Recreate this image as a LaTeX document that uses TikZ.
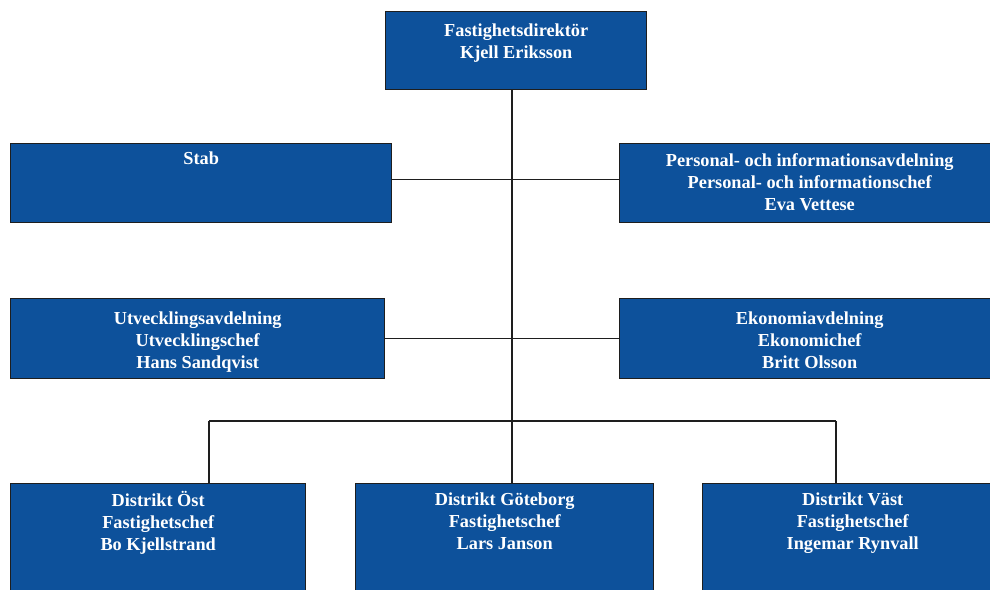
\documentclass[tikz,border=0pt]{standalone}
\usepackage{fontspec}
\setmainfont{Liberation Serif}
\usetikzlibrary{positioning}
\definecolor{orgblue}{RGB}{13,81,155}
\definecolor{orgline}{RGB}{30,30,30}

\begin{document}
\begin{tikzpicture}[x=1pt,y=-1pt,
    orgbox/.style={draw=orgline,line width=1.4pt,fill=orgblue,anchor=north west,inner sep=0pt},
    orgtext/.style={text=white,font=\bfseries\fontsize{18.3}{22}\selectfont,align=center,anchor=north,inner sep=0pt,yshift=-9pt},
    link/.style={draw=orgline,line width=1.2pt}]
    \useasboundingbox (0,0) rectangle (990,589);
    \clip (0,0) rectangle (990,589);
    % director
    \node[orgbox,minimum width=261pt,minimum height=78pt,
      label={[orgtext,yshift=-4pt]north:{Fastighetsdirektör\\Kjell Eriksson}}] (dir) at (385,11) {};
    % staff level
    \node[orgbox,minimum width=381pt,minimum height=79pt,
      label={[orgtext]north:{Stab}}] (stab) at (10,143) {};
    \node[orgbox,minimum width=380pt,minimum height=79pt,
      label={[orgtext,yshift=-1pt]north:{Personal- och informationsavdelning\\Personal- och informationschef\\Eva Vettese}}] (pers) at (619,143) {};
    \node[orgbox,minimum width=374pt,minimum height=80pt,
      label={[orgtext,yshift=-5pt]north:{Utvecklingsavdelning\\Utvecklingschef\\Hans Sandqvist}}] (utv) at (10,298) {};
    \node[orgbox,minimum width=380pt,minimum height=80pt,
      label={[orgtext,yshift=-5pt]north:{Ekonomiavdelning\\Ekonomichef\\Britt Olsson}}] (eko) at (619,298) {};
    % districts
    \node[orgbox,minimum width=295pt,minimum height=130pt,
      label={[orgtext,yshift=1pt]north:{Distrikt Öst\\Fastighetschef\\Bo Kjellstrand}}] (ost) at (10,483) {};
    \node[orgbox,minimum width=298pt,minimum height=130pt,
      label={[orgtext,yshift=-1pt]north:{Distrikt Göteborg\\Fastighetschef\\Lars Janson}}] (gbg) at (355,483) {};
    \node[orgbox,minimum width=300pt,minimum height=130pt,
      label={[orgtext,yshift=-1pt]north:{Distrikt Väst\\Fastighetschef\\Ingemar Rynvall}}] (vast) at (702,483) {};
    % connectors
    \coordinate (trunk) at (512,89);
    \coordinate (busL) at (209,421);
    \coordinate (busR) at (836,421);
    \path[link] (trunk) -- (trunk |- gbg.north);
    \path[link] ([yshift=4pt]stab.east) -- ([yshift=4pt]pers.west);
    \path[link] (utv.east) -- (eko.west);
    \path[link] (busL) -- (busR);
    \path[link] (busL) -- (busL |- ost.north);
    \path[link] (busR) -- (busR |- vast.north);
  \end{tikzpicture}
\end{document}
